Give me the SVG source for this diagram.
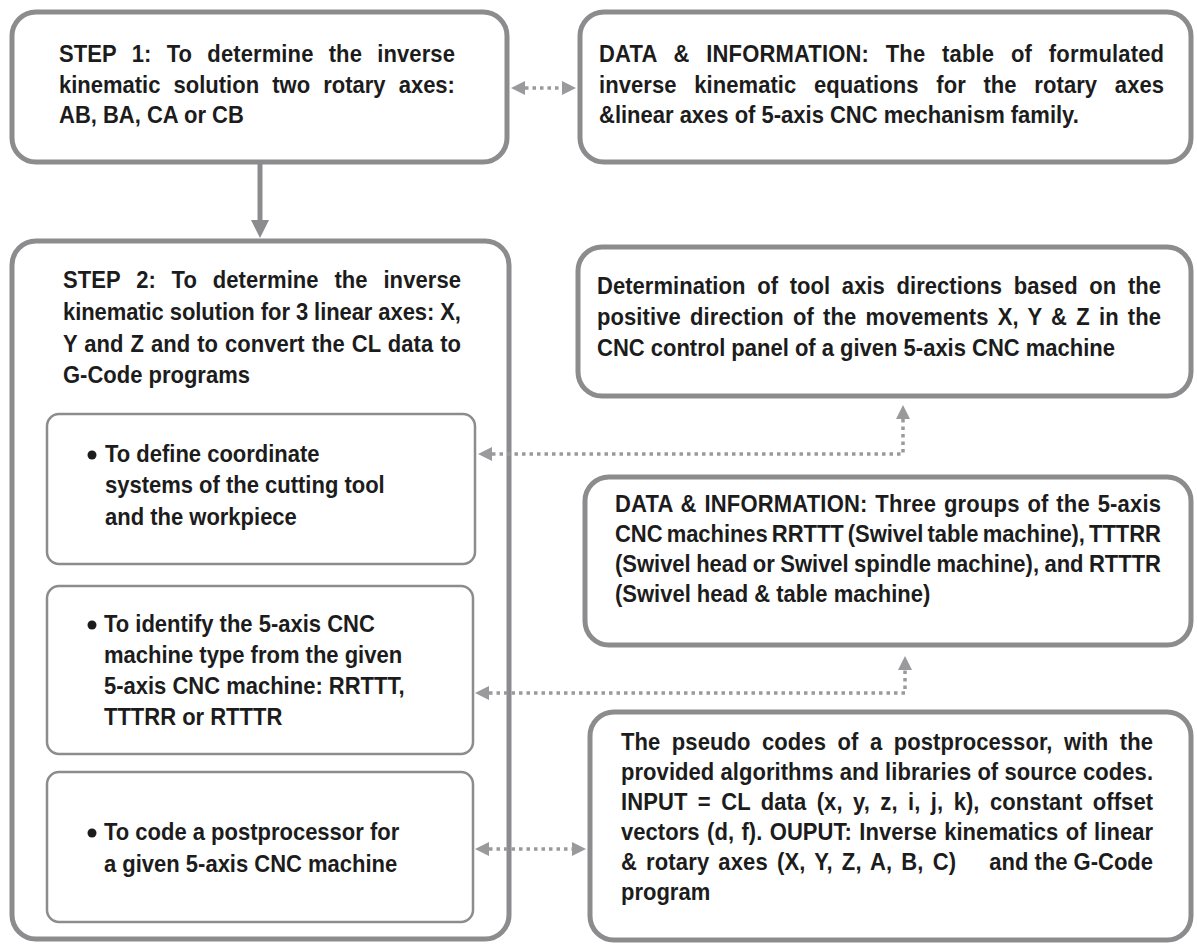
<svg xmlns="http://www.w3.org/2000/svg" width="1197" height="944" viewBox="0 0 1197 944">
<style>
  .box { fill: #ffffff; stroke: #8c8c8e; stroke-width: 5; }
  .sub { fill: #ffffff; stroke: #8c8c8e; stroke-width: 2.5; }
  text { font-family: "Liberation Sans", Arial, sans-serif; font-weight: bold; font-size: 23.5px; fill: #1c1c1c; }
  .dot { fill: none; stroke: #9a9a9c; stroke-width: 3.5; stroke-dasharray: 3.5 4; }
  .solid { fill: none; stroke: #8c8c8e; stroke-width: 5; }
  .bul { fill: #1c1c1c; }
</style>
<defs>
  <marker id="ah" viewBox="0 0 14 14" refX="0" refY="7" markerWidth="14" markerHeight="14" markerUnits="userSpaceOnUse" orient="auto-start-reverse">
    <path d="M0,0 L14,7 L0,14 z" fill="#9a9a9c"/>
  </marker>
  <marker id="sh" viewBox="0 0 18 18" refX="0" refY="9" markerWidth="18" markerHeight="18" markerUnits="userSpaceOnUse" orient="auto">
    <path d="M0,0 L18,9 L0,18 z" fill="#8c8c8e"/>
  </marker>
</defs>

<g id="step1">
  <rect class="box" x="12" y="12" width="495" height="150" rx="24"/>
  <g transform="translate(59,0) scale(0.936,1)">
    <text x="0" y="62" textLength="423" lengthAdjust="spacing" style="word-spacing:9.6px">STEP 1: To determine the inverse</text>
    <text x="0" y="93" textLength="423" lengthAdjust="spacing" style="word-spacing:7.5px">kinematic solution two rotary axes:</text>
    <text x="0" y="123">AB, BA, CA or CB</text>
  </g>
</g>

<g id="data1">
  <rect class="box" x="580" y="12" width="611" height="150" rx="24"/>
  <g transform="translate(599,0) scale(0.936,1)">
    <text x="0" y="62" textLength="603.6" lengthAdjust="spacing" style="word-spacing:11.2px">DATA &amp; INFORMATION: The table of formulated</text>
    <text x="0" y="93" textLength="603.6" lengthAdjust="spacing" style="word-spacing:12.3px">inverse kinematic equations for the rotary axes</text>
    <text x="0" y="123">&amp;linear axes of 5-axis CNC mechanism family.</text>
  </g>
</g>

<g id="step2">
  <rect class="box" x="12" y="241" width="497" height="698" rx="24"/>
  <g transform="translate(63,0) scale(0.936,1)">
    <text x="0" y="288" textLength="425.2" lengthAdjust="spacing" style="word-spacing:10.2px">STEP 2: To determine the inverse</text>
    <text x="0" y="320" textLength="425.2" lengthAdjust="spacing">kinematic solution for 3 linear axes: X,</text>
    <text x="0" y="352" textLength="425.2" lengthAdjust="spacing" style="word-spacing:0.9px">Y and Z and to convert the CL data to</text>
    <text x="0" y="383">G-Code programs</text>
  </g>
</g>

<g id="sub1">
  <rect class="sub" x="47" y="414" width="428" height="150" rx="12"/>
  <circle class="bul" cx="92" cy="455" r="4.5"/>
  <g transform="translate(105,0) scale(0.936,1)">
    <text x="0" y="462">To define coordinate</text>
    <text x="0" y="493">systems of the cutting tool</text>
    <text x="0" y="525">and the workpiece</text>
  </g>
</g>

<g id="sub2">
  <rect class="sub" x="47" y="586" width="426" height="168" rx="12"/>
  <circle class="bul" cx="92" cy="625" r="4.5"/>
  <g transform="translate(104,0) scale(0.936,1)">
    <text x="0" y="632">To identify the 5-axis CNC</text>
    <text x="0" y="663">machine type from the given</text>
    <text x="0" y="694">5-axis CNC machine: RRTTT,</text>
    <text x="0" y="725">TTTRR or RTTTR</text>
  </g>
</g>

<g id="sub3">
  <rect class="sub" x="47" y="772" width="426" height="150" rx="12"/>
  <circle class="bul" cx="92" cy="833" r="4.5"/>
  <g transform="translate(104,0) scale(0.936,1)">
    <text x="0" y="840">To code a postprocessor for</text>
    <text x="0" y="872">a given 5-axis CNC machine</text>
  </g>
</g>

<g id="determination">
  <rect class="box" x="578" y="247" width="613" height="149" rx="24"/>
  <g transform="translate(597,0) scale(0.936,1)">
    <text x="0" y="294" textLength="602.6" lengthAdjust="spacing" style="word-spacing:5.9px">Determination of tool axis directions based on the</text>
    <text x="0" y="325" textLength="602.6" lengthAdjust="spacing" style="word-spacing:3.2px">positive direction of the movements X, Y &amp; Z in the</text>
    <text x="0" y="356">CNC control panel of a given 5-axis CNC machine</text>
  </g>
</g>

<g id="data2">
  <rect class="box" x="585" y="477" width="606" height="168" rx="24"/>
  <g transform="translate(615,0) scale(0.936,1)">
    <text x="0" y="512" textLength="583.3" lengthAdjust="spacing" style="word-spacing:1.6px">DATA &amp; INFORMATION: Three groups of the 5-axis</text>
    <text x="0" y="542" textLength="583.3" lengthAdjust="spacing" style="word-spacing:-2.1px">CNC machines RRTTT (Swivel table machine), TTTRR</text>
    <text x="0" y="572" textLength="583.3" lengthAdjust="spacing" style="word-spacing:-0.7px">(Swivel head or Swivel spindle machine), and RTTTR</text>
    <text x="0" y="602">(Swivel head &amp; table machine)</text>
  </g>
</g>

<g id="pseudo">
  <rect class="box" x="590" y="712" width="601" height="228" rx="24"/>
  <g transform="translate(621,0) scale(0.936,1)">
    <text x="0" y="750" textLength="568.4" lengthAdjust="spacing" style="word-spacing:5.7px">The pseudo codes of a postprocessor, with the</text>
    <text x="0" y="780" textLength="568.4" lengthAdjust="spacing">provided algorithms and libraries of source codes.</text>
    <text x="0" y="810" textLength="568.4" lengthAdjust="spacing" style="word-spacing:4.5px">INPUT = CL data (x, y, z, i, j, k), constant offset</text>
    <text x="0" y="840" textLength="568.4" lengthAdjust="spacing" style="word-spacing:1.3px">vectors (d, f). OUPUT: Inverse kinematics of linear</text>
    <text x="0" y="870" textLength="357.9" lengthAdjust="spacing" style="word-spacing:3px">&amp; rotary axes (X, Y, Z, A, B, C)</text>
    <text x="568.4" y="870" text-anchor="end">and the G-Code</text>
    <text x="0" y="900">program</text>
  </g>
</g>

<g id="connectors">
  <path class="solid" d="M260 164 V220" marker-end="url(#sh)"/>
  <path class="dot" d="M525 88 H562" marker-start="url(#ah)" marker-end="url(#ah)"/>
  <path class="dot" d="M492 454 H903 V419" marker-start="url(#ah)" marker-end="url(#ah)"/>
  <path class="dot" d="M489 693 H905 V670" marker-start="url(#ah)" marker-end="url(#ah)"/>
  <path class="dot" d="M489 849 H572" marker-start="url(#ah)" marker-end="url(#ah)"/>
</g>
</svg>
